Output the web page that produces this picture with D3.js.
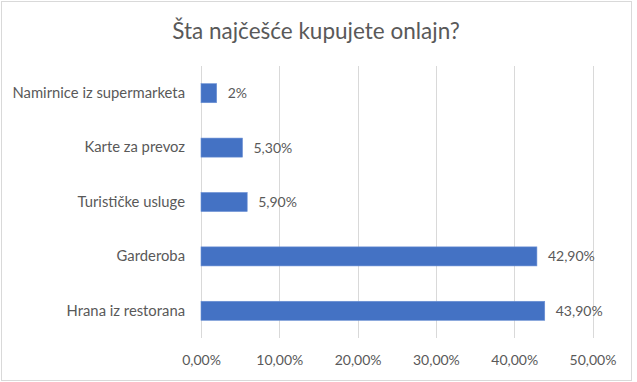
<!DOCTYPE html>
<html>
<head>
<meta charset="utf-8">
<script src="https://cdn.jsdelivr.net/npm/d3@7"></script>
<style>
  html, body { margin: 0; padding: 0; background: #fff; }
  svg { display: block; }
  text { font-family: Lato, "Open Sans", sans-serif; fill: #595959; }
</style>
</head>
<body>
<svg id="chart" width="637" height="382"></svg>
<script>
const title = "Šta najčešće kupujete onlajn?";
const categories = ["Namirnice iz supermarketa", "Karte za prevoz", "Turističke usluge", "Garderoba", "Hrana iz restorana"];
const values = [0.02, 0.053, 0.059, 0.429, 0.439];
const valueLabels = ["2%", "5,30%", "5,90%", "42,90%", "43,90%"];
const ticks = [0, 0.1, 0.2, 0.3, 0.4, 0.5];

(function () {
const svg = d3.select("#chart");
const pLeft = 201, pRight = 592.5, pTop = 66, pBottom = 338;

svg.append("rect").attr("x", 1.5).attr("y", 1.5).attr("width", 630).attr("height", 379)
  .attr("fill", "#fff").attr("stroke", "#d9d9d9").attr("stroke-width", 1);

svg.append("text").attr("x", 316).attr("y", 38.5).attr("text-anchor", "middle")
  .style("font-size", "22.5px").text(title);

const x = d3.scaleLinear().domain([0, 0.5]).range([pLeft, pRight]);
const y = d3.scaleBand().domain(categories).range([pTop, pBottom]).paddingInner(0.65).paddingOuter(0.325);

const locale = d3.formatLocale({decimal: ",", thousands: ".", grouping: [3], currency: ["", ""]});
const fmt = locale.format(".2%");

svg.append("g").selectAll("line").data(ticks).join("line")
  .attr("x1", d => Math.round(x(d)) + 0.5).attr("x2", d => Math.round(x(d)) + 0.5)
  .attr("y1", pTop).attr("y2", pBottom)
  .attr("stroke", "#d9d9d9").attr("stroke-width", 1);

const xAxis = d3.axisBottom(x).tickValues(ticks).tickFormat(fmt).tickSize(0).tickPadding(0);
const gx = svg.append("g").attr("transform", `translate(0,${pBottom + 17})`).call(xAxis);
gx.select(".domain").remove();
gx.selectAll("text").style("font-size", "14px").style("font-family", "Lato, 'Open Sans', sans-serif").attr("fill", "#595959");

const yAxis = d3.axisLeft(y).tickSize(0).tickPadding(0);
const gy = svg.append("g").attr("transform", `translate(${pLeft - 16},0)`).call(yAxis);
gy.select(".domain").remove();
gy.selectAll("text").style("font-size", "14.8px").style("font-family", "Lato, 'Open Sans', sans-serif").attr("fill", "#595959");

svg.append("g").selectAll("rect").data(values).join("rect")
  .attr("x", x(0)).attr("y", (d, i) => y(categories[i]))
  .attr("width", d => x(d) - x(0)).attr("height", y.bandwidth())
  .attr("fill", "#4472C4").attr("stroke", "#6a8fd4").attr("stroke-width", 0.6);

svg.append("g").selectAll("text").data(values).join("text")
  .attr("x", d => x(d) + 11).attr("y", (d, i) => y(categories[i]) + y.bandwidth() / 2)
  .attr("dy", "0.35em").style("font-size", "14px").text((d, i) => valueLabels[i]);
})();
</script>
</body>
</html>
